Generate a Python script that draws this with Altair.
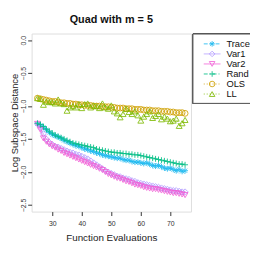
import altair as alt
import pandas as pd

evals = list(range(25, 76))

trace = [-1.27, -1.29, -1.32, -1.36, -1.40, -1.43, -1.45, -1.47, -1.49, -1.52,
         -1.54, -1.56, -1.58, -1.60, -1.61, -1.63, -1.65, -1.66, -1.68, -1.69,
         -1.71, -1.72, -1.74, -1.75, -1.76, -1.77, -1.78, -1.79, -1.79, -1.81,
         -1.82, -1.82, -1.84, -1.85, -1.85, -1.86, -1.87, -1.86, -1.88, -1.90,
         -1.91, -1.90, -1.92, -1.94, -1.95, -1.94, -1.96, -1.98, -1.96, -1.99, -1.98]
var1 = [-1.27, -1.33, -1.42, -1.50, -1.55, -1.58, -1.61, -1.62, -1.64, -1.66,
        -1.68, -1.70, -1.71, -1.73, -1.74, -1.76, -1.78, -1.80, -1.83, -1.86,
        -1.89, -1.92, -1.95, -1.98, -2.00, -2.02, -2.04, -2.06, -2.07, -2.09,
        -2.10, -2.11, -2.13, -2.14, -2.16, -2.17, -2.18, -2.19, -2.20, -2.21,
        -2.22, -2.23, -2.24, -2.25, -2.26, -2.27, -2.28, -2.28, -2.29, -2.30, -2.30]
var2 = [-1.27, -1.36, -1.49, -1.54, -1.58, -1.61, -1.63, -1.66, -1.68, -1.71,
        -1.73, -1.75, -1.77, -1.79, -1.81, -1.83, -1.85, -1.87, -1.89, -1.91,
        -1.93, -1.95, -1.97, -2.00, -2.03, -2.05, -2.07, -2.09, -2.10, -2.12,
        -2.14, -2.15, -2.17, -2.19, -2.20, -2.21, -2.23, -2.24, -2.25, -2.26,
        -2.26, -2.27, -2.28, -2.29, -2.30, -2.31, -2.32, -2.32, -2.33, -2.34, -2.35]
rand = [-1.26, -1.28, -1.31, -1.35, -1.38, -1.41, -1.44, -1.46, -1.48, -1.50,
        -1.52, -1.54, -1.56, -1.57, -1.58, -1.59, -1.60, -1.61, -1.62, -1.63,
        -1.65, -1.66, -1.67, -1.68, -1.69, -1.70, -1.70, -1.71, -1.71, -1.72,
        -1.72, -1.73, -1.73, -1.74, -1.74, -1.75, -1.76, -1.77, -1.78, -1.79,
        -1.80, -1.81, -1.82, -1.83, -1.84, -1.85, -1.86, -1.87, -1.88, -1.88, -1.89]
ols = [-0.88, -0.89, -0.90, -0.91, -0.92, -0.93, -0.93, -0.94, -0.95, -0.95,
       -0.96, -0.96, -0.97, -0.97, -0.98, -0.98, -0.99, -0.99, -0.99, -1.00,
       -1.00, -1.00, -1.01, -1.01, -1.01, -1.02, -1.02, -1.03, -1.03, -1.03,
       -1.04, -1.04, -1.04, -1.05, -1.05, -1.05, -1.06, -1.06, -1.06, -1.07,
       -1.07, -1.07, -1.08, -1.08, -1.08, -1.09, -1.09, -1.10, -1.10, -1.10, -1.11]
ll = [-0.88, -0.89, -0.98, -0.93, -0.94, -0.94, -0.96, -0.90, -0.96, -0.97,
      -1.07, -1.02, -1.00, -1.02, -0.97, -1.03, -0.97, -0.96, -1.02, -0.99,
      -1.00, -1.03, -0.96, -1.02, -1.04, -0.99, -1.08, -1.11, -1.17, -1.12,
      -1.04, -1.09, -1.12, -1.08, -1.14, -1.22, -1.16, -1.12, -1.08, -1.18,
      -1.15, -1.12, -1.20, -1.16, -1.19, -1.23, -1.22, -1.19, -1.30, -1.26, -1.21]

names = ["Trace", "Var1", "Var2", "Rand", "OLS", "LL"]
series = [trace, var1, var2, rand, ols, ll]
colors = ["#1CB9F0", "#B49DFF", "#F25FD6", "#00BE85", "#CFA000", "#7DBA00"]
dashes = [[4, 2], [1, 0], [1, 0], [4, 2, 1, 2], [1, 2], [1, 2]]
asterisk = "M-1,0L1,0M0,-1L0,1M-0.7,-0.7L0.7,0.7M-0.7,0.7L0.7,-0.7"
plus = "M-1,0L1,0M0,-1L0,1"
shapes = [asterisk, "diamond", "triangle-down", plus, "circle", "triangle-up"]

rows = []
for n, vals in zip(names, series):
    for x, v in zip(evals, vals):
        rows.append({"series": n, "evals": x, "dist": v})
df = pd.DataFrame(rows)
leg = pd.DataFrame({"series": names})

font = "Liberation Sans"
color_s = alt.Scale(domain=names, range=colors)
dash_s = alt.Scale(domain=names, range=dashes)
shape_s = alt.Scale(domain=names, range=shapes)

xs = alt.X("evals:Q", scale=alt.Scale(domain=[23, 77], nice=False, zero=False),
           axis=alt.Axis(values=[30, 40, 50, 60, 70], title="Function Evaluations",
                         grid=False, domain=False, tickColor="#333", tickSize=4,
                         labelFontSize=7, labelColor="#333", labelPadding=4,
                         titleFontSize=10, titleFontWeight="normal", titlePadding=6,
                         titleColor="#222", labelFont=font, titleFont=font))
ys = alt.Y("dist:Q", scale=alt.Scale(domain=[-2.6, 0.1], nice=False, zero=False),
           axis=alt.Axis(values=[0, -0.5, -1.0, -1.5, -2.0, -2.5], format=".1f",
                         title="Log Subspace Distance", grid=False, domain=False,
                         tickColor="#333", tickSize=4, labelFontSize=7,
                         labelColor="#333", labelAngle=270, labelAlign="center",
                         labelBaseline="bottom", labelPadding=1,
                         titleFontSize=9.5, titleFontWeight="normal", titlePadding=0,
                         titleColor="#222", labelFont=font, titleFont=font))

base = alt.Chart(df)
lines = base.mark_line(strokeWidth=1, opacity=0.85).encode(
    x=xs, y=ys,
    color=alt.Color("series:N", scale=color_s, legend=None),
    strokeDash=alt.StrokeDash("series:N", scale=dash_s, legend=None),
    detail="series:N",
)
points = base.mark_point(filled=False, strokeWidth=1, size=36, opacity=0.85).encode(
    x=xs, y=ys,
    color=alt.Color("series:N", scale=color_s, legend=None),
    shape=alt.Shape("series:N", scale=shape_s, legend=None),
)
main = alt.layer(lines, points)

ly = alt.Y("series:N", scale=alt.Scale(type="point", domain=names, range=[10.5, 61.5], padding=0), axis=None)
box = alt.Chart(leg).mark_rect(fill="white", stroke="#555", strokeWidth=1).encode(
    x=alt.value(164), x2=alt.value(223), y=alt.value(0.5), y2=alt.value(71))
lrule = alt.Chart(leg).mark_rule(strokeWidth=1, opacity=0.85).encode(
    x=alt.value(175), x2=alt.value(192), y=ly,
    color=alt.Color("series:N", scale=color_s, legend=None),
    strokeDash=alt.StrokeDash("series:N", scale=dash_s, legend=None))
lpt = alt.Chart(leg).mark_point(filled=False, strokeWidth=1, size=32, opacity=0.85).encode(
    x=alt.value(183.5), y=ly,
    color=alt.Color("series:N", scale=color_s, legend=None),
    shape=alt.Shape("series:N", scale=shape_s, legend=None))
ltxt = alt.Chart(leg).mark_text(align="left", baseline="middle", fontSize=9.5,
                                font=font, color="#111").encode(
    x=alt.value(198), y=ly, text="series:N")
legend = alt.layer(box, lrule, lpt, ltxt)

chart = alt.layer(main, legend).resolve_scale(y="independent").properties(
    width=162, height=181,
    title=alt.TitleParams("Quad with m = 5", fontSize=11, fontWeight="bold",
                          font=font, anchor="middle", offset=9, color="#111"),
    autosize=alt.AutoSizeParams(type="none"),
    padding={"left": 24, "top": 24, "right": 60, "bottom": 33},
).configure_view(stroke="#555", strokeWidth=1).configure(background="white")

chart.save("out.html", embed_options={"renderer": "svg", "actions": False})
